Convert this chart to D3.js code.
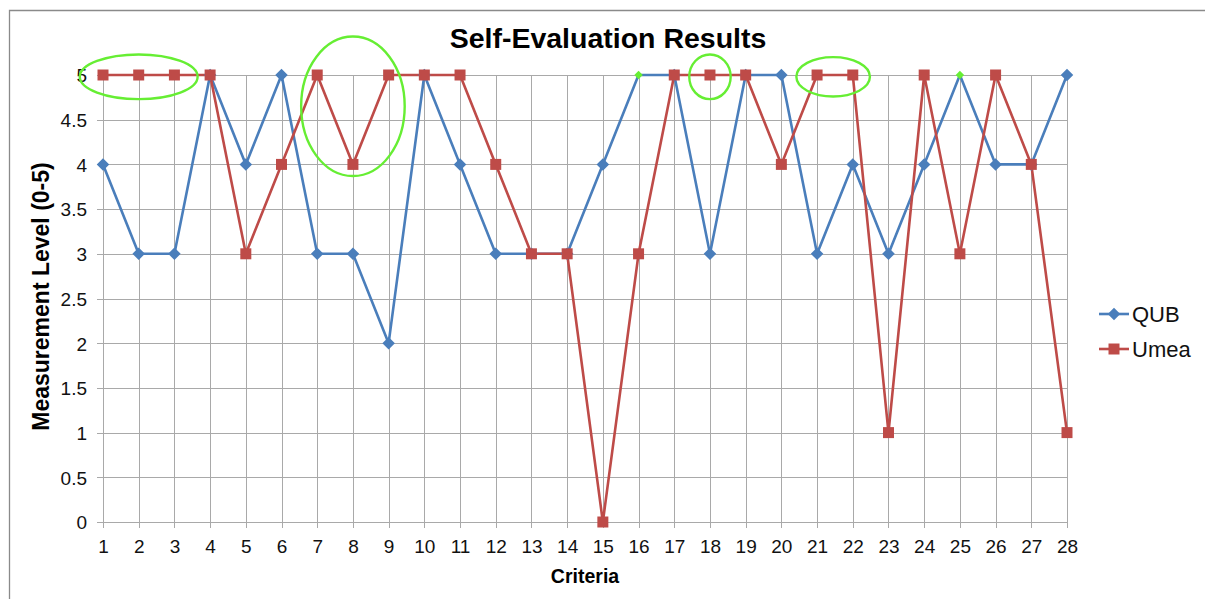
<!DOCTYPE html>
<html>
<head>
<meta charset="utf-8">
<script src="https://cdn.jsdelivr.net/npm/d3@7"></script>
<style>
  body { margin: 0; background: #fff; }
  text { font-family: "Liberation Sans", Arial, sans-serif; }
</style>
</head>
<body>
<div id="chart"></div>
<script>
// data
const criteria = d3.range(1, 29);
const qub  = [4, 3, 3, 5, 4, 5, 3, 3, 2, 5, 4, 3, 3, 3, 4, 5, 5, 3, 5, 5, 3, 4, 3, 4, 5, 4, 4, 5];
const umea = [5, 5, 5, 5, 3, 4, 5, 4, 5, 5, 5, 4, 3, 3, 0, 3, 5, 5, 5, 4, 5, 5, 1, 5, 3, 5, 4, 1];
const yTicks = [0, 0.5, 1, 1.5, 2, 2.5, 3, 3.5, 4, 4.5, 5];
const seriesNames = ["QUB", "Umea"];
// QUB points drawn in green
const highlightQub = [16, 25];
// green rings: [centre criterion, centre value, half width (criteria), half height (levels)]
const rings = [
    [2, 4.98, 1.65, 0.25],
    [8, 4.65, 1.45, 0.78],
    [18, 4.98, 0.58, 0.25],
    [21.45, 4.98, 1.03, 0.22]
];

const width = 1205, height = 599;
const margin = { top: 75, right: 138, bottom: 77, left: 103 };
const graphWidth = width - margin.left - margin.right;
const graphHeight = height - margin.top - margin.bottom;

const svg = d3.select("#chart").append("svg")
    .attr("width", width)
    .attr("height", height);

// outer frame
svg.append("path")
    .attr("d", `M9.5,${height} V10.5 H${width}`)
    .attr("fill", "none")
    .attr("stroke", "#8a8a8a")
    .attr("stroke-width", 1.3);

const graph = svg.append("g")
    .attr("transform", `translate(${margin.left},${margin.top})`);

const x = d3.scaleLinear().domain([1, 28]).range([0, graphWidth]);
const y = d3.scaleLinear().domain([0, 5]).range([graphHeight, 0]);

const gridColor = "#a9a9a9";

// horizontal gridlines
graph.append("g")
    .selectAll("line")
    .data(yTicks)
    .enter()
    .append("line")
    .attr("x1", -6).attr("x2", graphWidth)
    .attr("y1", d => Math.round(y(d)) + 0.5)
    .attr("y2", d => Math.round(y(d)) + 0.5)
    .attr("stroke", gridColor);

// vertical gridlines
graph.append("g")
    .selectAll("line")
    .data(criteria)
    .enter()
    .append("line")
    .attr("x1", d => Math.round(x(d)) + 0.5)
    .attr("x2", d => Math.round(x(d)) + 0.5)
    .attr("y1", 0).attr("y2", graphHeight + 6)
    .attr("stroke", gridColor);

// axes labels
const yAxis = d3.axisLeft(y).tickValues(yTicks).tickSize(0).tickPadding(16)
    .tickFormat(d => String(d));
const yAxisGroup = graph.append("g").call(yAxis);
const xAxis = d3.axisBottom(x).tickValues(criteria).tickSize(0).tickPadding(18)
    .tickFormat(d3.format("d"));
const xAxisGroup = graph.append("g")
    .attr("transform", `translate(0, ${graphHeight})`)
    .call(xAxis);

[yAxisGroup, xAxisGroup].forEach(g => {
    g.select(".domain").remove();
    g.selectAll("text")
        .attr("fill", "#111")
        .style("font-size", "19px")
        .style("font-family", "Liberation Sans, Arial, sans-serif");
});
yAxisGroup.selectAll("text").attr("dy", "0.36em");

// lines
const line = d3.line()
    .x((d, i) => x(criteria[i]))
    .y(d => y(d));

const colors = { QUB: "#4a7ebb", Umea: "#be4b48" };

graph.append("path")
    .datum(qub)
    .attr("d", line)
    .attr("fill", "none")
    .attr("stroke", colors.QUB)
    .attr("stroke-width", 2.6)
    .attr("stroke-linejoin", "round");

graph.append("path")
    .datum(umea)
    .attr("d", line)
    .attr("fill", "none")
    .attr("stroke", colors.Umea)
    .attr("stroke-width", 2.6)
    .attr("stroke-linejoin", "round");

const diamond = d3.symbol().type(d3.symbolDiamond2).size(100);
const smallDiamond = d3.symbol().type(d3.symbolDiamond2).size(45);
const square = d3.symbol().type(d3.symbolSquare).size(121);

graph.append("g")
    .selectAll("path")
    .data(qub)
    .enter()
    .append("path")
    .attr("d", (d, i) => highlightQub.includes(criteria[i]) ? smallDiamond() : diamond())
    .attr("transform", (d, i) => `translate(${x(criteria[i])},${y(d)})`)
    .attr("fill", (d, i) => highlightQub.includes(criteria[i]) ? "#66ee33" : colors.QUB);

graph.append("g")
    .selectAll("path")
    .data(umea)
    .enter()
    .append("path")
    .attr("d", square)
    .attr("transform", (d, i) => `translate(${x(criteria[i])},${y(d)})`)
    .attr("fill", colors.Umea);

// green annotation rings
const step = x(2) - x(1);
const unit = y(0) - y(1);
graph.append("g")
    .selectAll("ellipse")
    .data(rings)
    .enter()
    .append("ellipse")
    .attr("cx", d => x(d[0]))
    .attr("cy", d => y(d[1]))
    .attr("rx", d => d[2] * step)
    .attr("ry", d => d[3] * unit)
    .attr("fill", "none")
    .attr("stroke", "#66ee33")
    .attr("stroke-width", 2.4);

// title
svg.append("text")
    .attr("x", 608)
    .attr("y", 48)
    .attr("text-anchor", "middle")
    .style("font-size", "28.5px")
    .style("font-weight", "bold")
    .text("Self-Evaluation Results");

// axis titles
svg.append("text")
    .attr("x", margin.left + graphWidth / 2)
    .attr("y", 583)
    .attr("text-anchor", "middle")
    .style("font-size", "19.5px")
    .style("font-weight", "bold")
    .text("Criteria");

svg.append("text")
    .attr("transform", `translate(49, ${margin.top + graphHeight / 2 - 2}) rotate(-90)`)
    .attr("text-anchor", "middle")
    .style("font-size", "23px")
    .style("font-weight", "bold")
    .text("Measurement Level (0-5)");

// legend
const legend = svg.append("g")
    .attr("transform", "translate(1099, 314)");

const legendItems = legend.selectAll("g")
    .data(seriesNames)
    .enter()
    .append("g")
    .attr("transform", (d, i) => `translate(0, ${i * 35})`);

legendItems.append("line")
    .attr("x1", 0).attr("x2", 30)
    .attr("stroke", d => colors[d])
    .attr("stroke-width", 2.6);

legendItems.append("path")
    .attr("d", d => d === "QUB" ? diamond() : square())
    .attr("transform", "translate(15,0)")
    .attr("fill", d => colors[d]);

legendItems.append("text")
    .attr("x", 33)
    .attr("dy", "0.36em")
    .style("font-size", "22px")
    .attr("fill", "#111")
    .text(d => d);
</script>
</body>
</html>
